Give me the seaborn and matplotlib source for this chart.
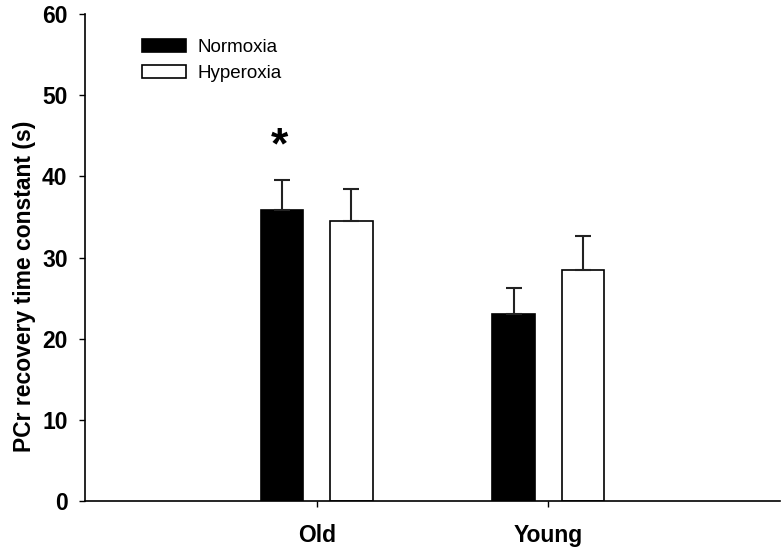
import pandas as pd
import matplotlib
matplotlib.use('Agg')
import matplotlib.pyplot as plt
import seaborn as sns
import numpy as np

sns.set_style('ticks')
plt.rcParams['font.family'] = ['Liberation Sans', 'DejaVu Sans']
plt.rcParams['text.color'] = 'black'
plt.rcParams['xtick.color'] = 'black'
plt.rcParams['ytick.color'] = 'black'
plt.rcParams['axes.labelcolor'] = 'black'
plt.rcParams['axes.edgecolor'] = 'black'

# data
groups = ['Old', 'Young']
conditions = ['Normoxia', 'Hyperoxia']
normoxia_mean = [35.8, 23.1]
normoxia_se = [3.7, 3.2]
hyperoxia_mean = [34.5, 28.5]
hyperoxia_se = [4.0, 4.1]

df = pd.DataFrame({
    'group': groups * 2,
    'condition': [conditions[0]] * 2 + [conditions[1]] * 2,
    'value': normoxia_mean + hyperoxia_mean,
    'se': normoxia_se + hyperoxia_se,
})

fig = plt.figure(figsize=(7.81, 5.47), dpi=100)
ax = fig.add_axes([0.1088, 0.0841, 0.8899, 0.8903])

sns.barplot(data=df, x='group', y='value', hue='condition', hue_order=conditions,
            palette={'Normoxia': 'black', 'Hyperoxia': 'white'},
            edgecolor='black', linewidth=1.2, width=0.6, gap=0.39,
            errorbar=None, ax=ax, legend=True)

# one-sided error bars (upper only), like the original
for patch, (_, row) in zip(ax.patches, df.iterrows()):
    xc = patch.get_x() + patch.get_width() / 2
    top = patch.get_height()
    ax.errorbar(xc, top, yerr=[[0], [row['se']]], fmt='none', ecolor='#222222',
                elinewidth=1.5, capsize=5.5, capthick=1.5, zorder=1)

# significance marker above Old normoxia
old_n = ax.patches[0]
ax.text(old_n.get_x() + old_n.get_width() / 2 - 0.01, 43.6, '*', ha='center', va='center',
        fontsize=32, fontweight='bold')

ax.set_xlim(-1.0, 2.0)
ax.set_ylim(0, 60)
ax.set_yticks(np.arange(0, 61, 10))
ax.set_xlabel('')
ax.set_ylabel('PCr recovery time constant (s)', fontsize=16.5, fontweight='bold')
ax.yaxis.set_label_coords(-0.07, 0.44)
ax.tick_params(axis='both', labelsize=16.5, length=4.5, width=1, direction='out')
for lbl in ax.get_xticklabels() + ax.get_yticklabels():
    lbl.set_fontweight('bold')
ax.tick_params(axis='x', pad=12)
ax.tick_params(axis='y', pad=8)
for s in ['top', 'right']:
    ax.spines[s].set_visible(False)
for s in ['left', 'bottom']:
    ax.spines[s].set_linewidth(1.2)

leg = ax.legend(loc='upper left', bbox_to_anchor=(0.058, 0.984), frameon=False,
                fontsize=13.5, handlelength=2.35, handleheight=0.75, handletextpad=0.6,
                labelspacing=0.45)

fig.savefig('out.png', dpi=100)
